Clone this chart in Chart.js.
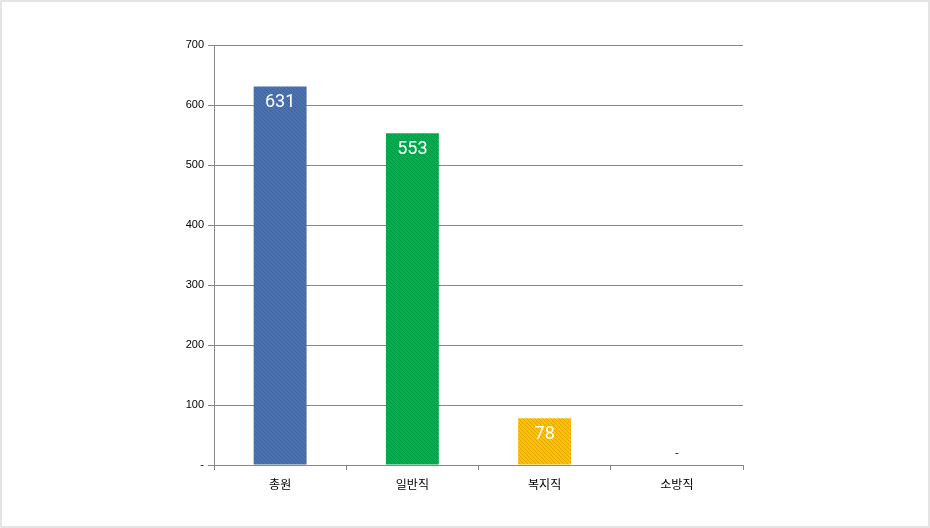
<!DOCTYPE html>
<html>
<head>
<meta charset="utf-8">
<script src="https://cdn.jsdelivr.net/npm/chart.js@4/dist/chart.umd.min.js"></script>
<style>
  html, body { margin: 0; padding: 0; background: #fff; }
  #wrap { width: 926px; height: 524px; border: 2px solid #e4e4e4; position: relative; }
  canvas { display: block; }
</style>
</head>
<body>
<div id="wrap"><canvas id="chart" width="926" height="524"></canvas></div>
<script>
const categories = ['총원', '일반직', '복지직', '소방직'];
const counts = [631, 553, 78, 0];
const barColors = ['#4a72b2', '#00b04f', '#ffc000', '#888888'];
const yTicks = [0, 100, 200, 300, 400, 500, 600, 700];

// fine diagonal hatch like the original office chart fill
const hatch = (color) => {
    const c = document.createElement('canvas');
    c.width = 4;
    c.height = 4;
    const g = c.getContext('2d');
    g.fillStyle = color;
    g.fillRect(0, 0, 4, 4);
    g.strokeStyle = 'rgba(0,0,0,0.12)';
    g.lineWidth = 1;
    g.beginPath();
    g.moveTo(0, 0); g.lineTo(4, 4);
    g.moveTo(-2, 2); g.lineTo(2, 6);
    g.moveTo(2, -2); g.lineTo(6, 2);
    g.stroke();
    return g.createPattern(c, 'repeat');
};

const fmt = v => (v === 0 ? '-' : String(v));

const valueLabels = {
    id: 'valueLabels',
    afterDatasetsDraw(chart) {
        const ctx = chart.ctx;
        const meta = chart.getDatasetMeta(0);
        ctx.save();
        ctx.textAlign = 'center';
        ctx.textBaseline = 'middle';
        meta.data.forEach((bar, i) => {
            const v = counts[i];
            if (v === 0) {
                ctx.fillStyle = '#000';
                ctx.font = '11px "Liberation Sans", Arial, sans-serif';
                ctx.fillText('-', bar.x, bar.y - 12);
            } else {
                ctx.fillStyle = '#fff';
                ctx.font = '18px Roboto, "Liberation Sans", sans-serif';
                ctx.fillText(String(v), bar.x, bar.y + 16);
            }
        });
        ctx.restore();
    }
};

new Chart(document.getElementById('chart').getContext('2d'), {
    type: 'bar',
    data: {
        labels: categories,
        datasets: [{
            data: counts,
            backgroundColor: barColors.map(hatch),
            borderWidth: 0,
            categoryPercentage: 1,
            barPercentage: 0.4
        }]
    },
    options: {
        responsive: false,
        animation: false,
        layout: { padding: { left: 0, top: 43, right: 185, bottom: 0 } },
        plugins: { legend: { display: false }, tooltip: { enabled: false } },
        scales: {
            x: {
                offset: true,
                grid: { offset: true, drawOnChartArea: false, drawTicks: true, tickLength: 5, color: '#888' },
                border: { color: '#888' },
                ticks: {
                    color: '#000',
                    padding: 7,
                    font: { family: '"Noto Sans CJK KR", sans-serif', size: 12 }
                },
                afterFit: s => { s.height = 61; }
            },
            y: {
                min: 0,
                max: 700,
                afterBuildTicks: s => { s.ticks = yTicks.map(v => ({ value: v })); },
                grid: { color: '#888', tickLength: 6 },
                border: { color: '#888' },
                ticks: {
                    color: '#000',
                    padding: 4,
                    font: { family: '"Liberation Sans", Arial, sans-serif', size: 11 },
                    callback: v => fmt(v)
                },
                afterFit: s => { s.width = 212; }
            }
        }
    },
    plugins: [valueLabels]
});
</script>
</body>
</html>
